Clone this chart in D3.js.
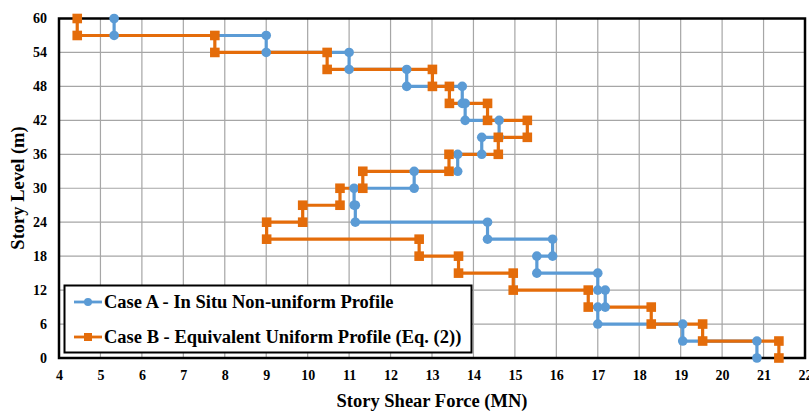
<!DOCTYPE html>
<html>
<head>
<meta charset="utf-8">
<script src="https://cdn.jsdelivr.net/npm/d3@7"></script>
<style>
  body { margin: 0; background: #fff; }
  svg { display: block; }
  svg text { font-family: "Liberation Serif", "Times New Roman", serif !important; font-weight: bold; fill: #000; }
</style>
</head>
<body>
<svg id="chart" width="809" height="411"></svg>
<script>
// Story boundaries (m) and story shear per story (MN), story i spans levels[i]..levels[i+1]
const storyLevels = [0, 3, 6, 9, 12, 15, 18, 21, 24, 27, 30, 33, 36, 39, 42, 45, 48, 51, 54, 57, 60];
const shearCaseA = [20.84, 19.05, 17.0, 17.18, 17.0, 15.53, 15.91, 14.34, 11.15, 11.12, 12.57, 13.62, 14.2, 14.62, 13.8, 13.73, 12.39, 11.0, 9.0, 5.33];
const shearCaseB = [21.37, 19.53, 18.29, 16.77, 14.96, 13.64, 12.69, 9.01, 9.88, 10.78, 11.33, 13.41, 14.6, 15.3, 14.34, 13.42, 13.01, 10.47, 7.76, 4.44];
const seriesNames = ["Case A - In Situ Non-uniform Profile", "Case B - Equivalent Uniform Profile (Eq. (2))"];
const xTicks = [4, 5, 6, 7, 8, 9, 10, 11, 12, 13, 14, 15, 16, 17, 18, 19, 20, 21, 22];
const yTicks = [0, 6, 12, 18, 24, 30, 36, 42, 48, 54, 60];
const xTitle = "Story Shear Force (MN)";
const yTitle = "Story Level (m)";

const colors = ["#5B9BD5", "#E46C0A"];
const FONT = "'Liberation Serif', 'Times New Roman', serif";

const svg = d3.select("#chart");
const x = d3.scaleLinear().domain([4, 22]).range([59, 805]);
const y = d3.scaleLinear().domain([0, 60]).range([358, 18.5]);

// grid
svg.append("g").selectAll("line").data(xTicks).join("line")
  .attr("x1", d => x(d)).attr("x2", d => x(d)).attr("y1", y(0)).attr("y2", y(60))
  .attr("stroke", "#a6a6a6").attr("stroke-width", 1.2);
svg.append("g").selectAll("line").data(yTicks).join("line")
  .attr("x1", x(4)).attr("x2", x(22)).attr("y1", d => y(d)).attr("y2", d => y(d))
  .attr("stroke", "#a6a6a6").attr("stroke-width", 1.2);

// axes (labels via d3 axis)
const xAxis = svg.append("g").attr("transform", `translate(0,${y(0)})`)
  .call(d3.axisBottom(x).tickValues(xTicks).tickFormat(d3.format("d")).tickSize(0).tickPadding(12));
const yAxis = svg.append("g").attr("transform", `translate(${x(4)},0)`)
  .call(d3.axisLeft(y).tickValues(yTicks).tickFormat(d3.format("d")).tickSize(0).tickPadding(12));
[xAxis, yAxis].forEach(g => {
  g.attr("font-family", FONT).attr("font-size", 14).attr("font-weight", "bold");
  g.select(".domain").remove();
  g.selectAll("text").attr("font-family", FONT).attr("fill", "#000");
});

// plot border
svg.append("rect").attr("x", x(4)).attr("y", y(60)).attr("width", x(22) - x(4)).attr("height", y(0) - y(60))
  .attr("fill", "none").attr("stroke", "#000").attr("stroke-width", 2.5);

// build step profiles
function steps(shear) {
  const pts = [];
  shear.forEach((v, i) => {
    pts.push([v, storyLevels[i]]);
    pts.push([v, storyLevels[i + 1]]);
  });
  return pts;
}
const series = [steps(shearCaseA), steps(shearCaseB)];
const line = d3.line().x(d => x(d[0])).y(d => y(d[1]));

series.forEach((pts, k) => {
  svg.append("path").datum(pts).attr("d", line)
    .attr("fill", "none").attr("stroke", colors[k]).attr("stroke-width", 3.2);
});
// markers
svg.append("g").selectAll("circle").data(series[0]).join("circle")
  .attr("cx", d => x(d[0])).attr("cy", d => y(d[1])).attr("r", 4.8).attr("fill", colors[0]);
svg.append("g").selectAll("rect").data(series[1]).join("rect")
  .attr("x", d => x(d[0]) - 4.8).attr("y", d => y(d[1]) - 4.8).attr("width", 9.6).attr("height", 9.6)
  .attr("fill", colors[1]);

// axis titles
svg.append("text").attr("x", 432).attr("y", 407).attr("text-anchor", "middle")
  .attr("font-family", FONT).attr("font-size", 18.5).attr("font-weight", "bold").text(xTitle);
svg.append("text").attr("transform", `translate(24,188) rotate(-90)`).attr("text-anchor", "middle")
  .attr("font-family", FONT).attr("font-size", 18.5).attr("font-weight", "bold").text(yTitle);

// legend
const lg = svg.append("g");
lg.append("rect").attr("x", 64.5).attr("y", 285.5).attr("width", 407).attr("height", 67)
  .attr("fill", "#fff").attr("stroke", "#000").attr("stroke-width", 2);
seriesNames.forEach((name, k) => {
  const cy = 302 + k * 35;
  lg.append("line").attr("x1", 74).attr("x2", 102).attr("y1", cy).attr("y2", cy)
    .attr("stroke", colors[k]).attr("stroke-width", 2.8);
  if (k === 0) lg.append("circle").attr("cx", 88).attr("cy", cy).attr("r", 4).attr("fill", colors[k]);
  else lg.append("rect").attr("x", 84).attr("y", cy - 4).attr("width", 8).attr("height", 8).attr("fill", colors[k]);
  lg.append("text").attr("x", 104).attr("y", cy + 6)
    .attr("font-family", FONT).attr("font-size", 18.5).attr("font-weight", "bold").text(name);
});
</script>
</body>
</html>
